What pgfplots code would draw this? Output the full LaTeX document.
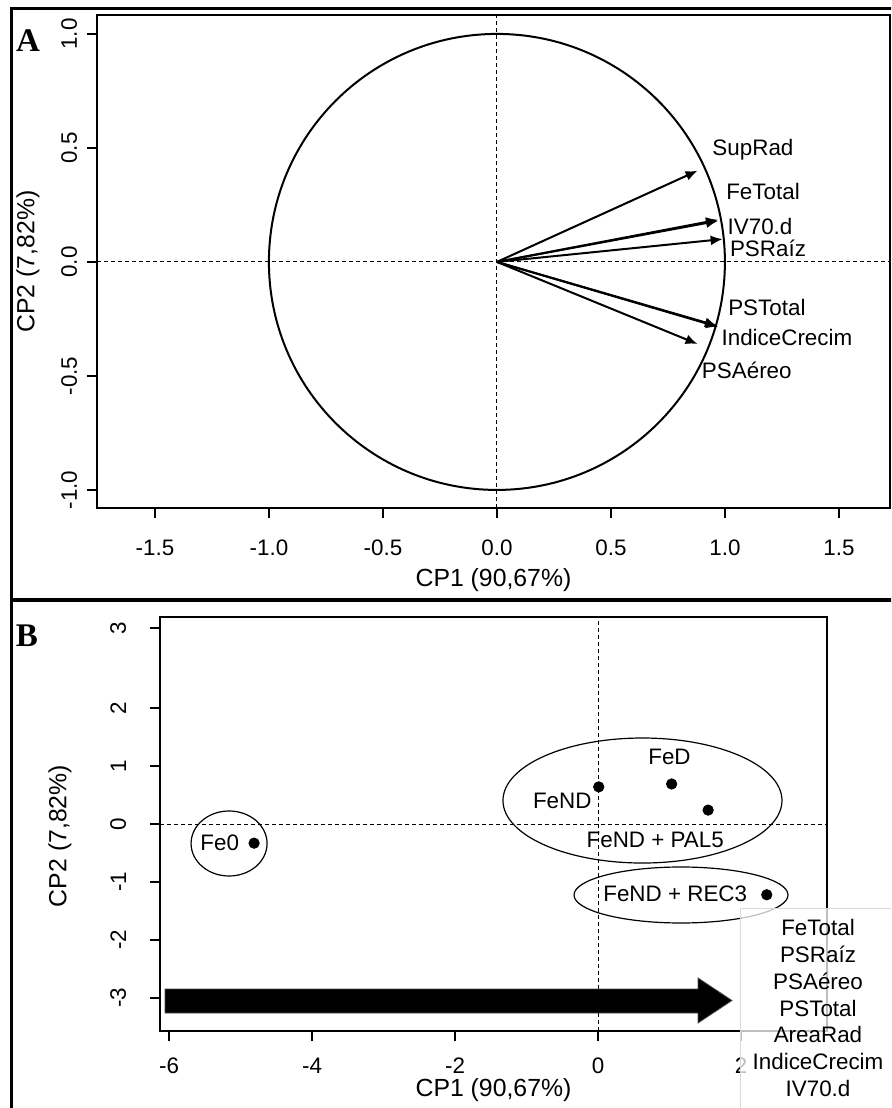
\documentclass[border=0pt]{standalone}
\usepackage{pgfplots}
\pgfplotsset{compat=1.18}
\usepackage{fontspec}
\setmainfont{Liberation Sans}
\newfontfamily\seriffont{Liberation Serif}
\usetikzlibrary{arrows.meta}
\begin{document}
\begin{tikzpicture}
\clip (0,0) rectangle (445.5pt,-554pt);
\fill[white] (0,0) rectangle (445.5pt,-554pt);
% ---------- Panel A ----------
\begin{axis}[
  at={(48.5pt,-7.5pt)}, anchor=north west,
  x=114pt, y=114pt,
  xmin=-1.754, xmax=1.724, ymin=-1.079, ymax=1.083,
  axis line style={line width=1pt},
  tick style={line width=1pt, black},
  major tick length=5pt, tick align=outside, tick pos=left,
  xtick={-1.5,-1,-0.5,0,0.5,1,1.5},
  xticklabels={-1.5,-1.0,-0.5,0.0,0.5,1.0,1.5},
  ytick={-1,-0.5,0,0.5,1},
  yticklabels={-1.0,-0.5,0.0,0.5,1.0},
  ticklabel style={font=\fontsize{11.2}{13}\selectfont},
  xticklabel shift=7.5pt,
  yticklabel style={rotate=90, anchor=south},
  yticklabel shift=1.4pt,
  xlabel={CP1 (90,67\%)}, ylabel={CP2 (7,82\%)},
  label style={font=\fontsize{12.4}{14}\selectfont},
  xlabel style={at={(axis description cs:0.5,-0.146)}, anchor=center},
  ylabel style={at={(axis description cs:-0.087,0.5)}, anchor=center},
  vec/.style={black, solid, no markers, line width=1pt, -{Latex[length=6pt,width=5pt]}},
]
\draw[line width=0.5pt, dash pattern=on 2pt off 1.5pt] (axis cs:0,-1.079) -- (axis cs:0,1.083);
\draw[line width=0.5pt, dash pattern=on 2pt off 1.5pt] (axis cs:-1.754,0) -- (axis cs:1.724,0);
\draw[line width=1pt] (axis cs:0,0) circle[radius=114pt];
\addplot[vec] coordinates {(0,0) (0.88,0.40)};   % SupRad
\addplot[vec] coordinates {(0,0) (0.97,0.185)};  % FeTotal
\addplot[vec] coordinates {(0,0) (0.97,0.18)};   % IV70.d
\addplot[vec] coordinates {(0,0) (0.99,0.10)};   % PSRaiz
\addplot[vec] coordinates {(0,0) (0.965,-0.28)}; % PSTotal
\addplot[vec] coordinates {(0,0) (0.97,-0.285)}; % IndiceCrecim
\addplot[vec] coordinates {(0,0) (0.88,-0.36)};  % PSAereo
\begin{scope}[every node/.style={font=\fontsize{11.2}{13}\selectfont}]
\node at (axis cs:1.123,0.491) {SupRad};
\node at (axis cs:1.167,0.307) {FeTotal};
\node at (axis cs:1.154,0.154) {IV70.d};
\node at (axis cs:1.189,0.061) {PSRaíz};
\node at (axis cs:1.184,-0.202) {PSTotal};
\node at (axis cs:1.272,-0.333) {IndiceCrecim};
\node at (axis cs:1.096,-0.474) {PSAéreo};
\end{scope}
\end{axis}
% ---------- Panel B ----------
\begin{axis}[
  at={(80pt,-308.5pt)}, anchor=north west,
  x=35.75pt, y=29pt,
  xmin=-6.126, xmax=3.203, ymin=-3.569, ymax=3.569,
  axis line style={line width=1pt},
  tick style={line width=1pt, black},
  major tick length=5pt, tick align=outside, tick pos=left,
  xtick={-6,-4,-2,0,2},
  xticklabels={-6,-4,-2,0,2},
  ytick={-3,-2,-1,0,1,2,3.38},
  yticklabels={-3,-2,-1,0,1,2,3},
  ticklabel style={font=\fontsize{11.2}{13}\selectfont},
  xticklabel shift=5pt,
  yticklabel style={rotate=90, anchor=south},
  yticklabel shift=8.4pt,
  xlabel={CP1 (90,67\%)}, ylabel={CP2 (7,82\%)},
  label style={font=\fontsize{12.4}{14}\selectfont},
  xlabel style={at={(axis description cs:0.5,-0.1425)}, anchor=center},
  ylabel style={at={(axis description cs:-0.150,0.471)}, anchor=center},
]
\draw[line width=0.5pt, dash pattern=on 2pt off 1.5pt] (axis cs:0,-3.569) -- (axis cs:0,3.569);
\draw[line width=0.5pt, dash pattern=on 2pt off 1.5pt] (axis cs:-6.126,0) -- (axis cs:3.203,0);
% big arrow
\addplot[fill=black, draw=black!70, line width=0.4pt, no markers, solid] coordinates {
  (-6.056,-2.845) (1.399,-2.845) (1.399,-2.655) (1.874,-3.043)
  (1.399,-3.431) (1.399,-3.259) (-6.056,-3.259)} -- cycle;
% ellipses
\draw[line width=0.6pt] (axis cs:-5.16,-0.336) ellipse[x radius=19pt, y radius=16.25pt];
\draw[line width=0.6pt] (axis cs:0.622,0.405) ellipse[x radius=69.75pt, y radius=31.25pt];
\draw[line width=0.6pt] (axis cs:1.161,-1.224) ellipse[x radius=53.5pt, y radius=14pt];
% points
\addplot[only marks, mark=*, mark size=2.6pt, black] coordinates {
  (-4.81,-0.33) (0.01,0.64) (1.03,0.69) (1.54,0.24) (2.36,-1.22)};
\begin{scope}[every node/.style={font=\fontsize{11.2}{13}\selectfont}]
\node at (axis cs:-5.29,-0.33) {Fe0};
\node at (axis cs:-0.50,0.40) {FeND};
\node at (axis cs:1.0,1.155) {FeD};
\node at (axis cs:0.80,-0.28) {FeND + PAL5};
\node at (axis cs:1.08,-1.21) {FeND + REC3};
\end{scope}
\end{axis}
% overlay text box
\fill[white, fill opacity=0.75] (370pt,-454pt) rectangle (450pt,-560pt);
\draw[black!15, line width=0.5pt] (370pt,-560pt) -- (370pt,-454pt) -- (450pt,-454pt);
\node[align=center, font=\fontsize{11.2}{13.35}\selectfont] at (409pt,-504pt)
  {FeTotal\\PSRaíz\\PSAéreo\\PSTotal\\AreaRad\\IndiceCrecim\\IV70.d};
% frame
\draw[line width=1.5pt] (460pt,-4pt) -- (5.75pt,-4pt) -- (5.75pt,-560pt);
\draw[line width=2pt] (5.75pt,-300pt) -- (460pt,-300pt);
% panel letters
\node[font=\seriffont\bfseries\fontsize{16.5}{18}\selectfont] at (14pt,-20.5pt) {A};
\node[font=\seriffont\bfseries\fontsize{16.5}{18}\selectfont] at (13.5pt,-318pt) {B};
\end{tikzpicture}
\end{document}
